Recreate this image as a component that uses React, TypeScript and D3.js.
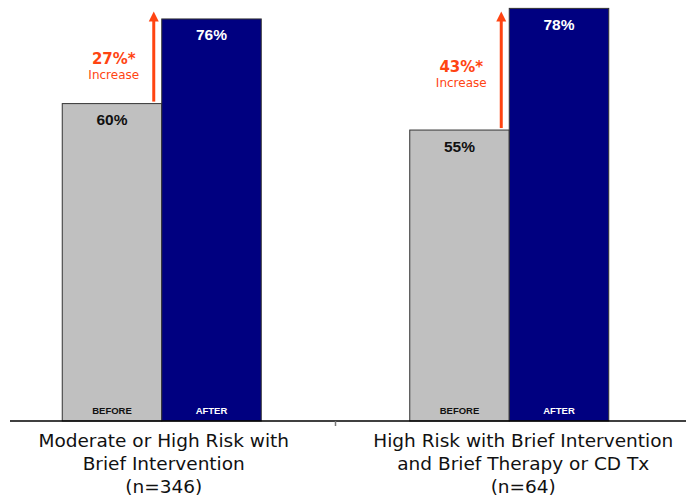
import React from "react";
import * as d3 from "d3";

const categories = ["g1", "g2"];
const categoryLabels = [
  ["Moderate or High Risk with", "Brief Intervention", "(n=346)"],
  ["High Risk with Brief Intervention", "and Brief Therapy or CD Tx", "(n=64)"],
];
const series = ["BEFORE", "AFTER"];
const beforeValues = [60, 55];
const afterValues = [76, 78];
const increaseLabels = ["27%*", "43%*"];
const arrowTopValues = [77.4, 77.4];

const W = 686;
const H = 500;
const baseline = 421;
const labelDx = [2, 14];
const ORANGE = "#FF4412";

export default function App() {
  const x = d3.scaleBand<string>().domain(categories).range([-12, 683]);
  const inner = d3.scaleBand<string>().domain(series).range([0, 199]);
  const y = d3.scaleLinear().domain([0, 100]).range([baseline, baseline - 529]);
  const bw = inner.bandwidth();
  const colors: Record<string, string> = { BEFORE: "#C0C0C0", AFTER: "#000080" };
  const textColors: Record<string, string> = { BEFORE: "#111", AFTER: "#fff" };

  return (
    <svg
      width={W}
      height={H}
      style={{ position: "absolute", left: 0, top: 0, background: "#fff" }}
    >
      {categories.map((c, i) => {
        const center = (x(c) as number) + x.bandwidth() / 2;
        const gx = center - 199 / 2;
        const vals = [beforeValues[i], afterValues[i]];
        const arrowX = gx + bw - 8;
        const midY = y((beforeValues[i] + afterValues[i]) / 2) + 3;
        const tipY = y(arrowTopValues[i]);
        return (
          <g key={c}>
            {series.map((s, j) => {
              const bx = gx + (inner(s) as number);
              const top = y(vals[j]);
              return (
                <g key={s}>
                  <rect
                    x={bx}
                    y={top}
                    width={bw}
                    height={baseline - top}
                    fill={colors[s]}
                    stroke="#333"
                    strokeWidth={1}
                  />
                  <text
                    x={bx + bw / 2}
                    y={top + 21.5}
                    textAnchor="middle"
                    fontFamily="'Liberation Sans', Arial, sans-serif"
                    fontWeight="bold"
                    fontSize={15.5}
                    fill={textColors[s]}
                  >
                    {vals[j]}%
                  </text>
                  <text
                    x={bx + bw / 2}
                    y={414}
                    textAnchor="middle"
                    fontFamily="'Liberation Sans', Arial, sans-serif"
                    fontWeight="bold"
                    fontSize={9.5}
                    fill={textColors[s]}
                  >
                    {s}
                  </text>
                </g>
              );
            })}
            {/* arrow */}
            <line
              x1={arrowX}
              x2={arrowX}
              y1={y(beforeValues[i]) - 2}
              y2={tipY + 9}
              stroke={ORANGE}
              strokeWidth={3}
            />
            <path
              d={`M${arrowX - 5},${tipY + 10} L${arrowX},${tipY} L${arrowX + 5},${tipY + 10} Z`}
              fill={ORANGE}
            />
            <text
              x={arrowX - 40}
              y={midY}
              textAnchor="middle"
              fontFamily="'DejaVu Sans', Verdana, sans-serif"
              fontWeight="bold"
              fontSize={15}
              fill={ORANGE}
            >
              {increaseLabels[i]}
            </text>
            <text
              x={arrowX - 40}
              y={midY + 15}
              textAnchor="middle"
              fontFamily="'DejaVu Sans', Verdana, sans-serif"
              fontSize={12}
              fill={ORANGE}
            >
              Increase
            </text>
            {categoryLabels[i].map((line, k) => (
              <text
                key={k}
                x={center + labelDx[i]}
                y={446.5 + k * 23.3}
                textAnchor="middle"
                fontFamily="'DejaVu Sans', Verdana, sans-serif"
                fontSize={18.5}
                fill="#111"
              >
                {line}
              </text>
            ))}
          </g>
        );
      })}
      <line x1={10} x2={W} y1={baseline} y2={baseline} stroke="#000" strokeWidth={1.5} />
      <line
        x1={(x(categories[1]) as number)}
        x2={(x(categories[1]) as number)}
        y1={baseline}
        y2={baseline + 5}
        stroke="#777"
        strokeWidth={1.5}
      />
    </svg>
  );
}
